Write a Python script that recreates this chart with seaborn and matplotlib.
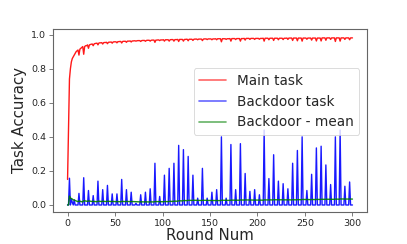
import numpy as np
import pandas as pd
import matplotlib
matplotlib.use("Agg")
import matplotlib.pyplot as plt
import seaborn as sns

# ---- data ----
main_task = [
    0.150, 0.450, 0.740, 0.800, 0.840, 0.860, 0.870, 0.880, 0.890, 0.900,
    0.905, 0.910, 0.880, 0.915, 0.920, 0.925, 0.930, 0.885, 0.930, 0.935,
    0.935, 0.940, 0.920, 0.940, 0.942, 0.944, 0.945, 0.935, 0.946, 0.948,
    0.949, 0.950, 0.940, 0.951, 0.952, 0.952, 0.953, 0.945, 0.953, 0.954,
    0.954, 0.955, 0.947, 0.955, 0.956, 0.956, 0.957, 0.950, 0.957, 0.958,
    0.958, 0.958, 0.952, 0.959, 0.959, 0.960, 0.960, 0.951, 0.960, 0.961,
    0.961, 0.961, 0.955, 0.962, 0.962, 0.962, 0.963, 0.957, 0.963, 0.963,
    0.964, 0.964, 0.962, 0.964, 0.965, 0.965, 0.965, 0.960, 0.965, 0.966,
    0.966, 0.966, 0.961, 0.966, 0.967, 0.967, 0.967, 0.962, 0.967, 0.968,
    0.968, 0.968, 0.955, 0.968, 0.968, 0.969, 0.969, 0.965, 0.969, 0.969,
    0.969, 0.970, 0.962, 0.970, 0.970, 0.970, 0.970, 0.962, 0.970, 0.971,
    0.971, 0.971, 0.962, 0.971, 0.971, 0.971, 0.972, 0.960, 0.972, 0.972,
    0.972, 0.972, 0.962, 0.972, 0.972, 0.973, 0.973, 0.964, 0.973, 0.973,
    0.973, 0.973, 0.966, 0.973, 0.974, 0.974, 0.974, 0.970, 0.974, 0.974,
    0.974, 0.974, 0.965, 0.974, 0.975, 0.975, 0.975, 0.971, 0.975, 0.975,
    0.975, 0.975, 0.970, 0.975, 0.975, 0.975, 0.976, 0.970, 0.976, 0.976,
    0.976, 0.976, 0.958, 0.976, 0.976, 0.976, 0.976, 0.972, 0.976, 0.976,
    0.976, 0.977, 0.962, 0.977, 0.977, 0.977, 0.977, 0.971, 0.977, 0.977,
    0.977, 0.977, 0.962, 0.977, 0.977, 0.977, 0.978, 0.968, 0.978, 0.978,
    0.978, 0.978, 0.972, 0.978, 0.978, 0.978, 0.978, 0.972, 0.978, 0.978,
    0.978, 0.978, 0.973, 0.978, 0.978, 0.978, 0.979, 0.962, 0.979, 0.979,
    0.979, 0.979, 0.970, 0.979, 0.979, 0.979, 0.979, 0.966, 0.979, 0.979,
    0.979, 0.979, 0.970, 0.979, 0.979, 0.979, 0.979, 0.971, 0.979, 0.979,
    0.979, 0.980, 0.972, 0.980, 0.980, 0.980, 0.980, 0.966, 0.980, 0.980,
    0.980, 0.980, 0.964, 0.980, 0.980, 0.980, 0.980, 0.962, 0.980, 0.980,
    0.980, 0.980, 0.973, 0.980, 0.980, 0.980, 0.980, 0.968, 0.980, 0.980,
    0.980, 0.980, 0.963, 0.980, 0.980, 0.980, 0.980, 0.963, 0.981, 0.981,
    0.981, 0.981, 0.967, 0.981, 0.981, 0.981, 0.981, 0.972, 0.981, 0.981,
    0.981, 0.981, 0.960, 0.981, 0.981, 0.981, 0.981, 0.962, 0.981, 0.981,
    0.981, 0.981, 0.972, 0.981, 0.981, 0.981, 0.981, 0.970, 0.981, 0.981,
    0.981,
]

# backdoor accuracy is zero except at these rounds
backdoor_rounds = [
    2, 4, 5, 7, 12, 17, 22, 27, 32, 37, 42, 47, 52, 57, 62, 67, 72, 77, 82, 87,
    92, 97, 102, 107, 112, 117, 122, 127, 132, 137, 142, 147, 152, 157, 162,
    167, 172, 177, 182, 187, 192, 197, 202, 207, 212, 217, 222, 227, 232, 237,
    242, 247, 252, 257, 262, 267, 272, 277, 282, 287, 292, 297,
]
backdoor_values = [
    0.157, 0.035, 0.015, 0.030, 0.068, 0.160, 0.085, 0.055, 0.140, 0.090, 0.115,
    0.065, 0.065, 0.150, 0.090, 0.075, 0.010, 0.060, 0.075, 0.095,
    0.245, 0.050, 0.175, 0.215, 0.245, 0.350, 0.325, 0.285, 0.175, 0.040,
    0.215, 0.040, 0.075, 0.090, 0.400, 0.040, 0.355, 0.090, 0.360, 0.185,
    0.080, 0.090, 0.060, 0.440, 0.155, 0.295, 0.140, 0.125, 0.095, 0.245,
    0.320, 0.400, 0.085, 0.180, 0.335, 0.345, 0.235, 0.120, 0.400, 0.440,
    0.110, 0.135,
]

rounds = np.arange(len(main_task))
backdoor = np.zeros(len(main_task))
backdoor[backdoor_rounds] = backdoor_values
backdoor_mean = pd.Series(backdoor).expanding().mean().to_numpy()

df = pd.DataFrame({
    "round": np.concatenate([rounds, rounds, rounds]),
    "acc": np.concatenate([main_task, backdoor, backdoor_mean]),
    "series": ["Main task"] * len(rounds) + ["Backdoor task"] * len(rounds)
              + ["Backdoor - mean"] * len(rounds),
})

sns.set_style("white")
plt.rcParams["font.family"] = ["DejaVu Sans"]

fig = plt.figure(figsize=(4.07, 2.44), dpi=100)
ax = fig.add_axes([0.131, 0.132, 0.770, 0.749])

palette = {"Main task": "red", "Backdoor task": "blue", "Backdoor - mean": "green"}
sns.lineplot(data=df, x="round", y="acc", hue="series", palette=palette,
             linewidth=1.0, alpha=0.9, ax=ax, legend=True, estimator=None)

ax.set_xlim(-15, 315)
ax.set_ylim(-0.04, 1.033)
ax.set_xticks([0, 50, 100, 150, 200, 250, 300])
ax.set_yticks([0.0, 0.2, 0.4, 0.6, 0.8, 1.0])
ax.set_yticklabels(["0.0", "0.2", "0.4", "0.6", "0.8", "1.0"])
ax.tick_params(axis="both", labelsize=6.8, length=3, width=0.6, color="#666666",
               direction="out", bottom=True, left=True, pad=2)
for sp in ax.spines.values():
    sp.set_color("#666666")
    sp.set_linewidth(0.8)

ax.set_xlabel("Round Num", fontsize=10.8, labelpad=0)
ax.set_ylabel("Task Accuracy", fontsize=10.8, labelpad=3)

leg = ax.legend(loc="upper right", bbox_to_anchor=(0.977, 0.785),
                borderaxespad=0, fontsize=9.8, frameon=True, handlelength=2.0)
leg.get_frame().set_edgecolor("#cccccc")
leg.get_frame().set_linewidth(0.6)
for h in leg.get_lines():
    h.set_alpha(0.6)
    h.set_linewidth(1.2)

fig.savefig("out.png", dpi=100)
